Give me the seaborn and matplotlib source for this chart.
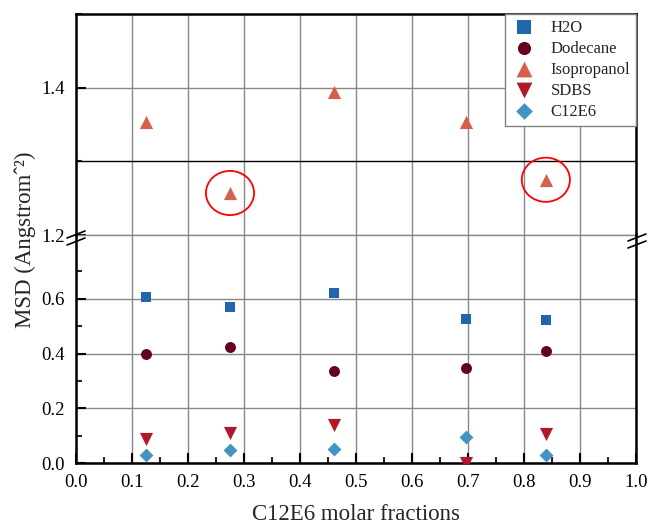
import matplotlib
matplotlib.use("Agg")
import matplotlib.pyplot as plt
from matplotlib.patches import Ellipse
from matplotlib.lines import Line2D
from matplotlib.ticker import MultipleLocator, FixedLocator, FormatStrFormatter
import seaborn as sns

# C12E6 molar fraction of each mixture
fractions = [0.125, 0.275, 0.461, 0.696, 0.839]

# mean square displacement per solvent
h2o = [0.606, 0.571, 0.622, 0.527, 0.523]
dodecane = [0.399, 0.422, 0.336, 0.348, 0.411]
isopropanol = [1.354, 1.257, 1.394, 1.354, 1.275]
sdbs = [0.087, 0.108, 0.139, 0.0, 0.107]
c12e6 = [0.028, 0.049, 0.051, 0.094, 0.028]

names = ["H2O", "Dodecane", "Isopropanol", "SDBS", "C12E6"]
series = [h2o, dodecane, isopropanol, sdbs, c12e6]
colors = ["#2166ac", "#67001f", "#d6604d", "#b2182b", "#4393c3"]
markers = ["s", "o", "^", "v", "D"]
sizes = [62, 62, 90, 90, 50]
circled = [1, 4]  # isopropanol points marked with a red circle

low_ticks = [0.0, 0.2, 0.4, 0.6]
low_minor = [0.1, 0.3, 0.5, 0.7]
top_ticks = [1.2, 1.4]
top_minor = [1.3, 1.5]

sns.set_theme(style="ticks")
plt.rcParams["font.family"] = ["Liberation Serif", "DejaVu Serif"]
plt.rcParams["xtick.direction"] = "in"
plt.rcParams["ytick.direction"] = "in"

W, H = 651, 527
fig = plt.figure(figsize=(W / 100, H / 100), dpi=100)
ax_top = fig.add_axes([76 / W, 1 - 235 / H, 560 / W, 221 / H])
ax_low = fig.add_axes([76 / W, 1 - 463 / H, 560 / W, 228 / H])
ax_low.patch.set_visible(False)

for ax in (ax_top, ax_low):
    for i in range(len(names)):
        sns.scatterplot(x=fractions, y=series[i], ax=ax, color=colors[i],
                        marker=markers[i], s=sizes[i], linewidth=0,
                        label=names[i] if ax is ax_top else None, zorder=3)
    ax.set_xlim(0, 1.0)
    ax.xaxis.set_major_locator(MultipleLocator(0.1))
    ax.xaxis.set_minor_locator(MultipleLocator(0.05))
    ax.grid(True, which="major", color="#888888", lw=1)
    ax.set_axisbelow(True)
    for sp in ax.spines.values():
        sp.set_linewidth(1.8)
        sp.set_color("black")
    ax.tick_params(which="major", length=7, width=1.5, labelsize=13.5, pad=8,
                   colors="black")
    ax.tick_params(which="minor", length=4, width=1.5)
    ax.set_ylabel("")
    ax.yaxis.set_major_formatter(FormatStrFormatter("%.1f"))

ax_top.set_ylim(1.2, 1.5)
ax_top.yaxis.set_major_locator(FixedLocator(top_ticks))
ax_top.yaxis.set_minor_locator(FixedLocator(top_minor))
ax_top.tick_params(axis="x", which="both", bottom=False, labelbottom=False)
ax_top.spines["bottom"].set_visible(False)
ax_top.axhline(1.3, color="black", lw=1, zorder=2)
ax_top.axhline(1.2, color="#888888", lw=1, zorder=1, clip_on=False)

for i in circled:
    ax_top.add_patch(Ellipse((fractions[i], isopropanol[i]), 0.086, 0.06,
                             fill=False, edgecolor="red", lw=1.3, zorder=4))

ax_low.set_ylim(0, 0.833)
ax_low.yaxis.set_major_locator(FixedLocator(low_ticks))
ax_low.yaxis.set_minor_locator(FixedLocator(low_minor))
ax_low.spines["top"].set_visible(False)
ax_low.xaxis.set_major_formatter(FormatStrFormatter("%.1f"))
ax_low.set_xlabel("C12E6 molar fractions", fontsize=16.5, labelpad=9)

leg = ax_top.legend(loc="upper right", bbox_to_anchor=(1, 1), borderaxespad=0,
                    fontsize=12, frameon=True, fancybox=False, framealpha=1,
                    edgecolor="#808080", labelspacing=0.3, handletextpad=0.8,
                    borderpad=0.35, handlelength=1.6, markerscale=1.2)
leg.get_frame().set_linewidth(1)

fig.text(25 / W, 1 - 240 / H, "MSD (Angstromˆ²)", rotation=90, fontsize=16.5,
         ha="center", va="center")

# axis break marks
def px(x, y):
    return x / W, 1 - y / H

for cx, cy in [(76, 238), (637, 241)]:
    for dy in (-3.5, 3.5):
        (x0, y0), (x1, y1) = px(cx - 9, cy + dy + 3.5), px(cx + 9, cy + dy - 3.5)
        fig.add_artist(Line2D([x0, x1], [y0, y1], color="black", lw=1.2))

fig.savefig("out.png", dpi=100)
